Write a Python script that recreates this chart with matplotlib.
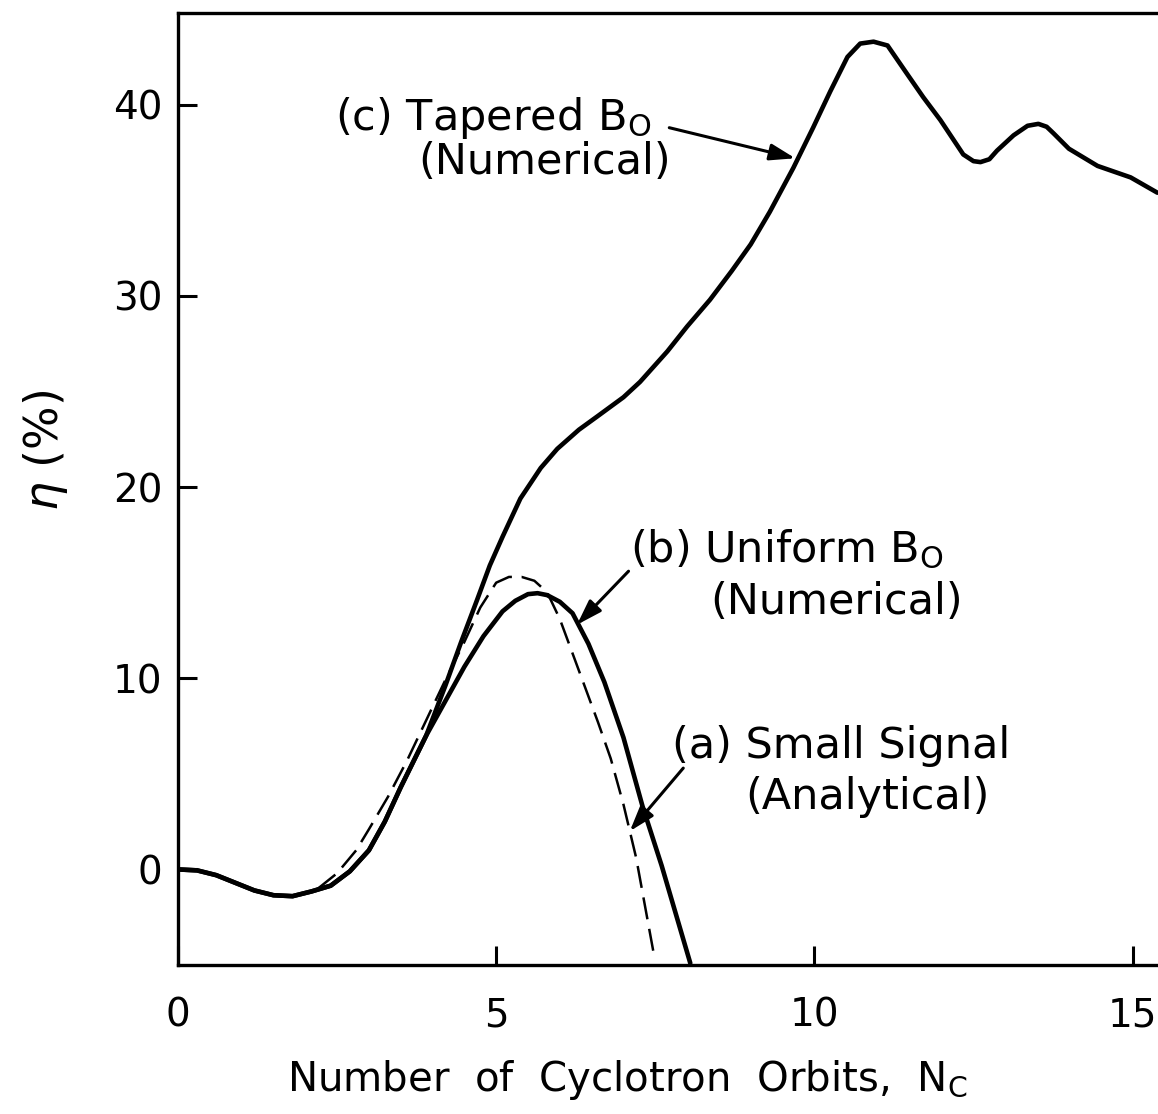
import matplotlib
matplotlib.use("Agg")
import matplotlib.pyplot as plt

plt.rcParams['font.family'] = ['DejaVu Sans']
plt.rcParams['mathtext.fontset'] = 'custom'
plt.rcParams['mathtext.rm'] = 'DejaVu Sans'
plt.rcParams['mathtext.it'] = 'DejaVu Sans:italic'
plt.rcParams['lines.scale_dashes'] = False

# (b) Uniform B0 (numerical)
xb = [0, 0.3, 0.6, 0.9, 1.2, 1.5, 1.8, 2.1, 2.4, 2.7, 3.0, 3.25, 3.5, 3.9, 4.2, 4.5,
      4.8, 5.1, 5.3, 5.5, 5.65, 5.8, 6.0, 6.2, 6.45, 6.7, 7.0, 7.3, 7.6, 7.9, 8.05]
yb = [0, -0.05, -0.3, -0.7, -1.1, -1.35, -1.4, -1.15, -0.85, -0.1, 1.0, 2.5, 4.3, 7.0,
      8.8, 10.6, 12.2, 13.5, 14.05, 14.4, 14.45, 14.35, 14.0, 13.4, 11.8, 9.8, 6.9, 3.3,
      0.2, -3.2, -4.9]

# (a) Small signal (analytical)
xa = [2.2, 2.5, 2.8, 3.0, 3.3, 3.6, 3.9, 4.2, 4.5, 4.75, 5.0, 5.2, 5.4, 5.6, 5.8, 6.0,
      6.2, 6.4, 6.6, 6.8, 7.0, 7.2, 7.47]
ya = [-1.0, -0.2, 1.0, 2.1, 3.8, 5.7, 7.8, 9.9, 11.9, 13.7, 15.0, 15.3, 15.3, 15.1, 14.5,
      13.1, 11.3, 9.5, 7.7, 5.8, 3.4, 0.6, -4.3]

# (c) Tapered B0 (numerical)
xc = [0, 0.3, 0.6, 0.9, 1.2, 1.5, 1.8, 2.1, 2.4, 2.7, 3.0, 3.25, 3.5, 3.9, 4.2, 4.45,
      4.7, 4.9, 5.1, 5.38, 5.7, 5.96, 6.3, 6.59, 7.0, 7.26, 7.69, 8.0, 8.36, 8.7, 9.0,
      9.3, 9.67, 9.98, 10.25, 10.52, 10.72, 10.93, 11.15, 11.46, 11.71, 11.98, 12.34,
      12.5, 12.61, 12.75, 12.87, 13.13, 13.35, 13.52, 13.65, 13.76, 14.0, 14.45, 14.97,
      15.39]
yc = [0, -0.05, -0.3, -0.7, -1.1, -1.35, -1.4, -1.15, -0.85, -0.1, 1.0, 2.5, 4.3, 7.0,
      9.6, 11.9, 14.1, 15.9, 17.4, 19.4, 21.0, 22.0, 23.0, 23.7, 24.7, 25.5, 27.1, 28.4,
      29.8, 31.3, 32.7, 34.4, 36.7, 38.8, 40.7, 42.5, 43.2, 43.3, 43.1, 41.6, 40.4, 39.2,
      37.4, 37.05, 37.0, 37.15, 37.6, 38.4, 38.9, 39.0, 38.85, 38.5, 37.7, 36.8, 36.2, 35.4]

xticks = [0, 5, 10, 15]
xticklabels = ['0', '5', '10', '15']
yticks = [0, 10, 20, 30, 40]
yticklabels = ['0', '10', '20', '30', '40']

fig = plt.figure(figsize=(11.58, 11.14), dpi=100)
ax = fig.add_axes([178 / 1158, 1 - 965 / 1114, 980 / 1158, 952 / 1114])

ax.plot(xc, yc, color='k', lw=3.3, solid_capstyle='round', solid_joinstyle='round')
ax.plot(xb, yb, color='k', lw=3.3, solid_capstyle='round', solid_joinstyle='round')
ax.plot(xa, ya, color='k', lw=1.8, dashes=(16, 7))

ax.set_xlim(0, 15.4)
ax.set_ylim(-5, 44.8)
ax.set_xticks(xticks)
ax.set_xticklabels(xticklabels)
ax.set_yticks(yticks)
ax.set_yticklabels(yticklabels)
ax.tick_params(direction='in', length=14, width=2.2, labelsize=28,
               top=False, right=False)
ax.tick_params(axis='x', pad=23)
ax.tick_params(axis='y', pad=11)
for s in ['left', 'bottom', 'top']:
    ax.spines[s].set_linewidth(2.4)
ax.spines['right'].set_visible(False)

ax.set_xlabel(r'Number  of  Cyclotron  Orbits,  $\mathregular{N_C}$', fontsize=29)
ax.xaxis.set_label_coords(0.458, -0.098)
ax.set_ylabel(r'$\eta$ (%)', fontsize=33)
ax.yaxis.set_label_coords(-0.110, 0.541)

fs = 31
ax.text(2.47, 39.3, r'(c) Tapered $\mathregular{B_O}$', fontsize=fs, ha='left', va='center')
ax.text(3.77, 37.0, '(Numerical)', fontsize=fs, ha='left', va='center')
ax.text(7.1, 16.75, r'(b) Uniform $\mathregular{B_O}$', fontsize=fs, ha='left', va='center')
ax.text(8.36, 14.0, '(Numerical)', fontsize=fs, ha='left', va='center')
ax.text(7.77, 6.44, '(a) Small Signal', fontsize=fs, ha='left', va='center')
ax.text(8.92, 3.8, '(Analytical)', fontsize=fs, ha='left', va='center')

ap = dict(arrowstyle='-|>,head_length=0.55,head_width=0.18', lw=2.2, color='k',
          shrinkA=0, shrinkB=0)
ax.annotate('', xy=(9.7, 37.2), xytext=(7.72, 38.8), arrowprops=ap, fontsize=28)
ax.annotate('', xy=(6.27, 12.8), xytext=(7.08, 15.6), arrowprops=ap, fontsize=28)
ax.annotate('', xy=(7.1, 2.0), xytext=(7.94, 5.3), arrowprops=ap, fontsize=28)

fig.savefig('out.png', dpi=100, facecolor='white')
